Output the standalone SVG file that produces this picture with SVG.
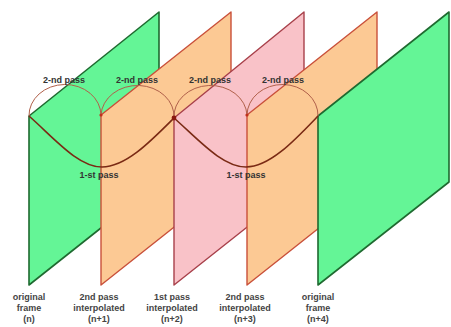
<svg xmlns="http://www.w3.org/2000/svg" width="451" height="327" viewBox="0 0 451 327">
<style>
.g{fill:#64f596;stroke:#1f6a30;stroke-width:1.6;stroke-linejoin:round}
.o{fill:#fcc994;stroke:#c9503a;stroke-width:1.4;stroke-linejoin:round}
.p{fill:#f9c2c8;stroke:#a8404a;stroke-width:1.4;stroke-linejoin:round}
.lbl{font-family:"Liberation Sans",Arial,sans-serif;font-size:9px;font-weight:bold;fill:#444444;text-anchor:middle}
.pl{font-family:"Liberation Sans",Arial,sans-serif;font-size:9px;font-weight:bold;fill:#333333;text-anchor:middle}
.p1{fill:none;stroke:#7a2a14;stroke-width:1.6}
.p2{fill:none;stroke:#b0604a;stroke-width:1}
</style>
<rect width="451" height="327" fill="#ffffff"/>
<g id="frame-n">
<path class="g" d="M29,116 L159,12 L159,182 L29,285 Z"/>
<text class="lbl" x="29" y="300">original</text>
<text class="lbl" x="29" y="311">frame</text>
<text class="lbl" x="29" y="322">(n)</text>
</g>
<g id="frame-n1">
<path class="o" d="M101,115 L231,12 L231,182 L101,285 Z"/>
<text class="lbl" x="99" y="300">2nd pass</text>
<text class="lbl" x="99" y="311">interpolated</text>
<text class="lbl" x="99" y="322">(n+1)</text>
</g>
<g id="frame-n2">
<path class="p" d="M174,118 L304,12 L304,182 L174,285 Z"/>
<text class="lbl" x="172" y="300">1st pass</text>
<text class="lbl" x="172" y="311">interpolated</text>
<text class="lbl" x="172" y="322">(n+2)</text>
</g>
<g id="frame-n3">
<path class="o" d="M247,115 L377,12 L377,182 L247,285 Z"/>
<text class="lbl" x="245" y="300">2nd pass</text>
<text class="lbl" x="245" y="311">interpolated</text>
<text class="lbl" x="245" y="322">(n+3)</text>
</g>
<g id="frame-n4">
<path class="g" d="M318,116 L449,12 L449,182 L318,285 Z"/>
<text class="lbl" x="318" y="300">original</text>
<text class="lbl" x="318" y="311">frame</text>
<text class="lbl" x="318" y="322">(n+4)</text>
</g>
<g id="connectors">
<path class="p1" d="M29,116 C54,138 78,167 102,167 C126,167 151,141 174,118"/>
<path class="p1" d="M174,118 C198,139 222,167 246,167 C270,167 295,140 318,116"/>
<path class="p2" d="M29,116 A36 31 0 0 1 101,115"/>
<path class="p2" d="M101,115 A36.5 31 0 0 1 174,118"/>
<path class="p2" d="M174,118 A36.5 31 0 0 1 247,115"/>
<path class="p2" d="M247,115 A35.5 31 0 0 1 318,116"/>
<circle cx="101" cy="115" r="1.6" fill="#c0301c"/>
<circle cx="174" cy="118" r="2.4" fill="#8a1a10"/>
<circle cx="247" cy="115" r="1.6" fill="#c0301c"/>
<text class="pl" x="64" y="83">2-nd pass</text>
<text class="pl" x="137" y="83">2-nd pass</text>
<text class="pl" x="210" y="83">2-nd pass</text>
<text class="pl" x="283" y="83">2-nd pass</text>
<text class="pl" x="99" y="178">1-st pass</text>
<text class="pl" x="246" y="178">1-st pass</text>
</g>
</svg>
